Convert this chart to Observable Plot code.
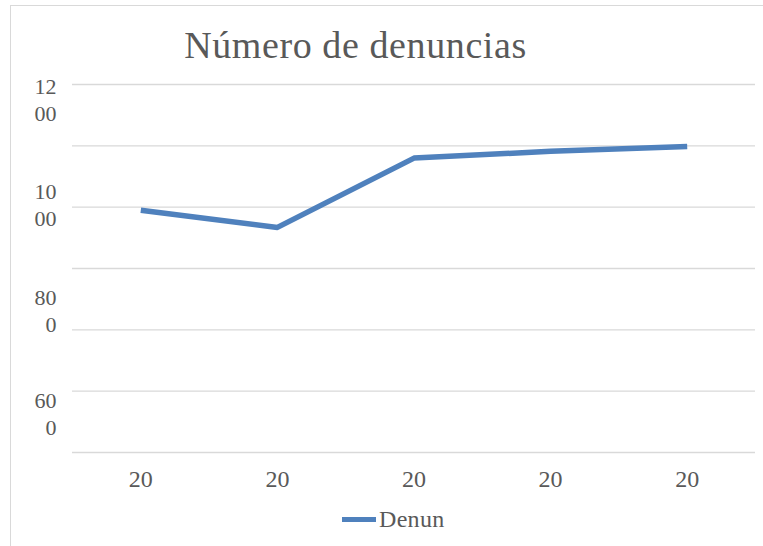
<!DOCTYPE html>
<html>
<head>
<meta charset="utf-8">
<script src="https://cdn.jsdelivr.net/npm/d3@7"></script>
<script src="https://cdn.jsdelivr.net/npm/@observablehq/plot@0.6"></script>
<style>
  html, body { margin: 0; padding: 0; background: #fff; }
  #wrap { position: relative; width: 763px; height: 546px; overflow: hidden; font-family: "Liberation Serif", serif; color: #595959; }
  #frame { position: absolute; left: 10px; top: 5px; width: 800px; height: 600px; border: 1.5px solid #d9d9d9; box-sizing: border-box; }
  #chart { position: absolute; left: 0; top: 0; }
  #title { position: absolute; left: 0; top: 26px; width: 711px; text-align: center; font-size: 38px; line-height: 38px; letter-spacing: 0.6px; white-space: nowrap; }
  #legend { position: absolute; left: 342px; top: 506px; display: flex; align-items: center; font-size: 24px; line-height: 26px; white-space: nowrap; letter-spacing: 0.3px; }
  #legend .sw { width: 34px; height: 5px; background: #4f81bd; margin-right: 3px; }
</style>
</head>
<body>
<div id="wrap">
  <div id="frame"></div>
  <div id="chart"></div>
  <div id="title"></div>
  <div id="legend"><span class="sw"></span><span id="legtext"></span></div>
</div>
<script>
// ---- data ----
const titleText = "Número de denuncias";
const seriesName = "Denun";
const years = ["20", "20", "20", "20", "20"];
const denuncias = [995, 967, 1080, 1091, 1099];
const gridValues = [600, 700, 800, 900, 1000, 1100, 1200];
const yTicks = [1200, 1000, 800, 600];
const yTickLabels = ["12\n00", "10\n00", "80\n0", "60\n0"];

// ---- chart ----
document.getElementById("title").textContent = titleText;
document.getElementById("legtext").textContent = seriesName;

const idx = years.map((_, i) => i);
const labelShift = [14, -3, -20, -40]; // vertical offsets of wrapped labels (style)

const yAxisMarks = yTicks.map((t, k) =>
  Plot.axisY([t], {
    tickSize: 0,
    tickPadding: 16,
    fontSize: 22,
    lineHeight: 1.22,
    dy: labelShift[k],
    tickFormat: () => yTickLabels[k],
    fill: "#595959"
  })
);

const chart = Plot.plot({
  width: 763,
  height: 546,
  marginTop: 84,
  marginBottom: 94,
  marginLeft: 72,
  marginRight: 8,
  style: { fontFamily: "'Liberation Serif', serif", color: "#595959", background: "transparent" },
  x: { type: "linear", domain: [-0.5, years.length - 0.5], axis: null },
  y: { domain: [600, 1200], axis: null },
  marks: [
    Plot.gridY(gridValues, { stroke: "#d9d9d9", strokeOpacity: 1, strokeWidth: 1.3 }),
    ...yAxisMarks,
    Plot.axisX(idx, {
      tickSize: 0,
      tickPadding: 17,
      fontSize: 24,
      tickFormat: (i) => years[i],
      fill: "#595959"
    }),
    Plot.line(idx, {
      x: (i) => i,
      y: (i) => denuncias[i],
      stroke: "#4f81bd",
      strokeWidth: 5.5,
      strokeLinecap: "butt",
      strokeLinejoin: "round"
    })
  ]
});
document.getElementById("chart").appendChild(chart);
</script>
</body>
</html>
